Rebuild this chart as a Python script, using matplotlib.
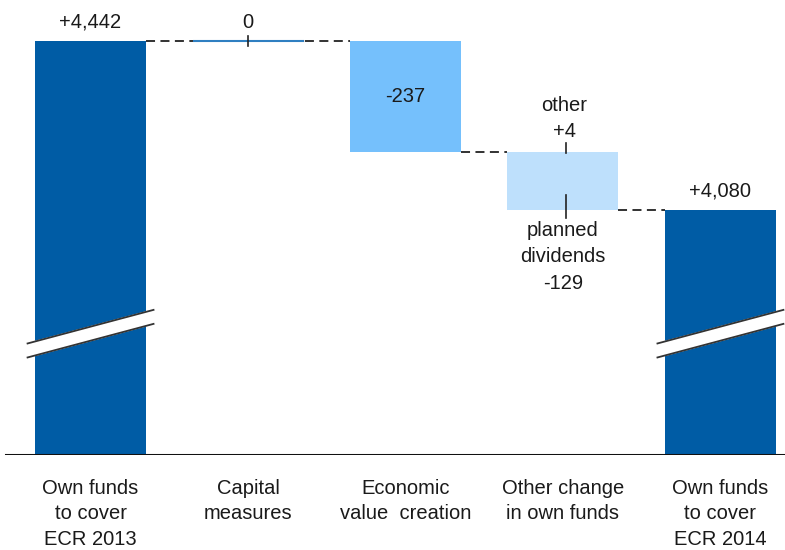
import matplotlib
matplotlib.use("Agg")
import matplotlib.pyplot as plt

plt.rcParams['font.family'] = ['Liberation Sans', 'DejaVu Sans']

categories = ["Own funds\nto cover\nECR 2013", "Capital\nmeasures",
              "Economic\nvalue  creation", "Other change\nin own funds",
              "Own funds\nto cover\nECR 2014"]
own_funds_2013 = 4442
capital_measures = 0
value_creation = -237
other_change = 4
planned_dividends = -129
own_funds_2014 = 4080

dark = '#005ca5'
mid = '#75c0fc'
light = '#bee0fc'
txt = '#1a1a1a'

def fmt(v):
    if v == 0:
        return "0"
    return "{:+,}".format(v)

fig = plt.figure(figsize=(7.85, 5.5), dpi=100)
ax = fig.add_axes([0, 1 - 455 / 550, 1, 455 / 550])
base = 3555
ax.set_xlim(-0.575, 4.41)
ax.set_ylim(base, 4530)
w = 0.705
x = list(range(5))

# running levels
lvl0 = own_funds_2013
lvl1 = lvl0 + capital_measures
lvl2 = lvl1 + value_creation
lvl3 = lvl2 + other_change + planned_dividends

ax.bar(x[0], lvl0 - base, bottom=base, width=w, color=dark, zorder=2)
ax.hlines(lvl1, x[1] - w / 2, x[1] + w / 2, color='#2f7fc1', lw=1.5, zorder=3)
ax.bar(x[2], value_creation, bottom=lvl1, width=w, color=mid, zorder=2)
ax.bar(x[3], lvl3 - lvl2, bottom=lvl2, width=w, color=light, zorder=2)
ax.bar(x[4], own_funds_2014 - base, bottom=base, width=w, color=dark, zorder=2)

# dashed connectors
dash = dict(color='#222222', lw=1.3, linestyle=(0, (5, 3)), zorder=1)
ax.plot([x[0] + w / 2, x[2] - w / 2], [lvl0, lvl0], **dash)
ax.plot([x[2] + w / 2, x[3] - w / 2], [lvl2, lvl2], **dash)
ax.plot([x[3] + w / 2, x[4] - w / 2], [lvl3, lvl3], **dash)

# small ticks
ax.plot([x[1], x[1]], [lvl1 - 10, lvl1 + 10], color='#222222', lw=1.2, zorder=4)
ax.plot([x[3] + 0.02, x[3] + 0.02], [lvl2 - 2, lvl2 + 18], color='#222222', lw=1.2, zorder=4)
ax.plot([x[3] + 0.02, x[3] + 0.02], [lvl3 - 17, lvl3 + 32], color='#222222', lw=1.2, zorder=4)

# axis breaks on the total bars
bmid, gap, rise, half = 3815, 15, 72, 0.40
for c in (x[0], x[4]):
    xs = [c - half, c + half]
    up = [bmid - rise / 2 + gap, bmid + rise / 2 + gap]
    lo = [bmid - rise / 2 - gap, bmid + rise / 2 - gap]
    ax.fill([xs[0], xs[1], xs[1], xs[0]], [up[0], up[1], lo[1], lo[0]],
            color='white', zorder=5)
    ax.plot(xs, up, color='#333333', lw=1.3, zorder=6)
    ax.plot(xs, lo, color='#333333', lw=1.3, zorder=6)

fs = 14.5
ls = 1.5
ax.annotate(fmt(own_funds_2013), (x[0], lvl0), xytext=(0, 19), textcoords='offset pixels',
            ha='center', va='center', fontsize=fs, color=txt)
ax.annotate(fmt(capital_measures), (x[1], lvl1), xytext=(0, 19), textcoords='offset pixels',
            ha='center', va='center', fontsize=fs, color=txt)
ax.text(x[2], lvl1 + value_creation / 2, fmt(value_creation), ha='center', va='center',
        fontsize=fs, color=txt)
ax.annotate("other\n" + fmt(other_change), (x[3] + 0.01, lvl2), xytext=(0, 33),
            textcoords='offset pixels', ha='center', va='center', fontsize=fs,
            color=txt, linespacing=ls)
ax.annotate("planned\ndividends\n" + fmt(planned_dividends), (x[3], lvl3), xytext=(0, -47),
            textcoords='offset pixels', ha='center', va='center', fontsize=fs,
            color=txt, linespacing=ls)
ax.annotate(fmt(own_funds_2014), (x[4], own_funds_2014), xytext=(0, 19),
            textcoords='offset pixels', ha='center', va='center', fontsize=fs, color=txt)

ax.axhline(base, xmin=0.008, xmax=1, color='#111111', lw=2.2, zorder=7)

ax.set_xticks(x)
ax.set_xticklabels(categories, fontsize=fs, color=txt, linespacing=1.45)
ax.tick_params(axis='x', length=0, pad=17)
ax.set_yticks([])
for s in ax.spines.values():
    s.set_visible(False)

fig.savefig("out.png", dpi=100)
